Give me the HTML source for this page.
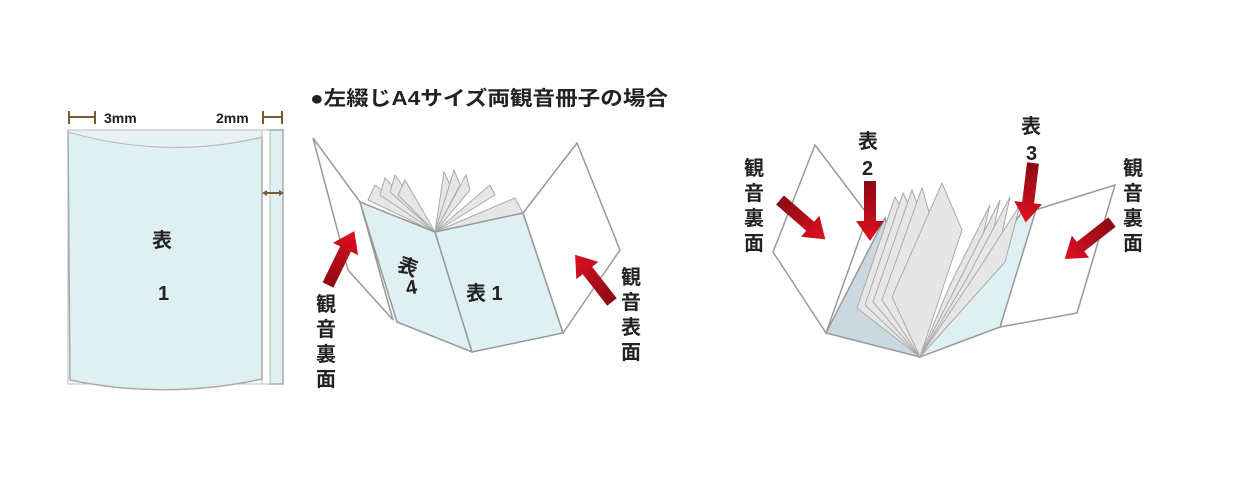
<!DOCTYPE html>
<html><head><meta charset="utf-8"><style>
html,body{margin:0;padding:0;background:#fff;width:1250px;height:487px;overflow:hidden}
svg{display:block}
text{font-family:"Liberation Sans","Noto Sans CJK JP",sans-serif;font-weight:bold;fill:#222}
</style></head><body>
<svg width="1250" height="487" viewBox="0 0 1250 487" xmlns="http://www.w3.org/2000/svg">
<defs>
<linearGradient id="rg" x1="0" y1="0" x2="1" y2="0">
<stop offset="0" stop-color="#8a0a14"/><stop offset="1" stop-color="#e01020"/>
</linearGradient>
<path id="ar" d="M0,-6 L40,-6 L40,-14 L60,0 L40,14 L40,6 L0,6 Z" fill="url(#rg)"/>
</defs>

<!-- Title -->
<text x="310" y="105" font-size="20" textLength="358" lengthAdjust="spacingAndGlyphs">●左綴じA4サイズ両観音冊子の場合</text>

<!-- Left book -->
<rect x="268" y="130" width="15" height="254" fill="#dff0f2" stroke="#aaa" stroke-width="1.5"/>
<rect x="262" y="130" width="8" height="254" fill="#fff" stroke="#bbb" stroke-width="1"/>
<path d="M68,130 L262,130 L262,384 L68,384 Z" fill="#fff" stroke="#bbb" stroke-width="1"/>
<path d="M68,130 Q165,160 262,137 L262,379 Q165,400 70,380 Z" fill="#dff0f2" stroke="#aaa" stroke-width="1.5"/>
<path d="M68,130 L262,130 L262,137 Q165,160 68,132 Z" fill="#e8f2f4" stroke="#bbb" stroke-width="1"/>
<g stroke="#7a5a30" stroke-width="2" fill="none">
<line x1="69" y1="111" x2="69" y2="124"/><line x1="95" y1="111" x2="95" y2="124"/><line x1="69" y1="117" x2="95" y2="117"/>
<line x1="263" y1="111" x2="263" y2="124"/><line x1="282" y1="111" x2="282" y2="124"/><line x1="263" y1="117" x2="282" y2="117"/>
<line x1="264" y1="193" x2="282" y2="193"/>
</g>
<path d="M262,193 l5,-3 v6 z M284,193 l-5,-3 v6 z" fill="#7a5a30"/>
<text x="104" y="123" font-size="14" font-weight="normal">3mm</text>
<text x="216" y="123" font-size="14" font-weight="normal">2mm</text>
<text x="152" y="247" font-size="20">表</text>
<text x="158" y="300" font-size="20">1</text>

<!-- Middle book -->
<polygon points="313,138 360,202 393,320 348,270" fill="#fff" stroke="#999" stroke-width="1.5"/>
<polygon points="523,213 577,143 620,250 563,333" fill="#fff" stroke="#999" stroke-width="1.5"/>
<g fill="#e6e6e6" stroke="#aaa" stroke-width="1">
<polygon points="435,232 375,185 368,200"/>
<polygon points="435,232 385,178 380,195"/>
<polygon points="435,232 395,175 390,192"/>
<polygon points="435,232 405,180 398,195"/>
<polygon points="435,232 444,172 450,185"/>
<polygon points="435,232 454,170 460,185"/>
<polygon points="435,232 466,175 470,190"/>
<polygon points="435,232 490,185 495,195"/>
<polygon points="435,232 515,198 523,213"/>
</g>
<polygon points="360,202 435,232 472,352 397,322" fill="#dff0f2" stroke="#999" stroke-width="1.5"/>
<polygon points="435,232 523,213 563,333 472,352" fill="#dff0f2" stroke="#999" stroke-width="1.5"/>
<text x="0" y="0" font-size="20" transform="translate(396,270) rotate(20)">表</text>
<text x="0" y="0" font-size="20" transform="translate(407,295) rotate(-10)">4</text>
<text x="466" y="300" font-size="20">表 1</text>
<use href="#ar" transform="translate(328,285) rotate(-64)"/>
<use href="#ar" transform="translate(612,302) rotate(-128)"/>
<g font-size="20">
<text x="316" y="311">観</text><text x="316" y="336">音</text><text x="316" y="361">裏</text><text x="316" y="386">面</text>
<text x="621" y="284">観</text><text x="621" y="309">音</text><text x="621" y="334">表</text><text x="621" y="359">面</text>
</g>

<!-- Right book -->
<polygon points="815,145 868,215 826,333 773,252" fill="#fff" stroke="#999" stroke-width="1.5"/>
<polygon points="1035,210 1115,185 1077,313 1000,327" fill="#fff" stroke="#999" stroke-width="1.5"/>
<polygon points="826,333 885,218 920,357" fill="#c9d9df" stroke="#999" stroke-width="1.5"/>
<polygon points="920,357 1022,212 1036,210 1000,327" fill="#dff0f2" stroke="#999" stroke-width="1.5"/>
<g fill="#e6e6e6" stroke="#aaa" stroke-width="1">
<polygon points="920,357 857,308 895,197 925,250"/>
<polygon points="920,357 865,305 903,193 930,250"/>
<polygon points="920,357 873,302 912,190 935,250"/>
<polygon points="920,357 882,300 922,188 940,250"/>
<polygon points="920,357 892,297 942,183 962,230"/>
<polygon points="920,357 950,285 990,205 975,270"/>
<polygon points="920,357 958,283 1000,200 985,268"/>
<polygon points="920,357 966,280 1010,197 995,265"/>
<polygon points="920,357 975,275 1020,205 1005,262"/>
</g>
<use href="#ar" transform="translate(780,200) rotate(41)"/>
<use href="#ar" transform="translate(870,181) rotate(90)"/>
<use href="#ar" transform="translate(1033,163) rotate(97)"/>
<use href="#ar" transform="translate(1112,222) rotate(142)"/>
<g font-size="20">
<text x="744" y="175">観</text><text x="744" y="200">音</text><text x="744" y="225">裏</text><text x="744" y="250">面</text>
<text x="1123" y="175">観</text><text x="1123" y="200">音</text><text x="1123" y="225">裏</text><text x="1123" y="250">面</text>
<text x="858" y="148">表</text><text x="862" y="175">2</text>
<text x="1021" y="133">表</text><text x="1026" y="160">3</text>
</g>
</svg>
</body></html>
